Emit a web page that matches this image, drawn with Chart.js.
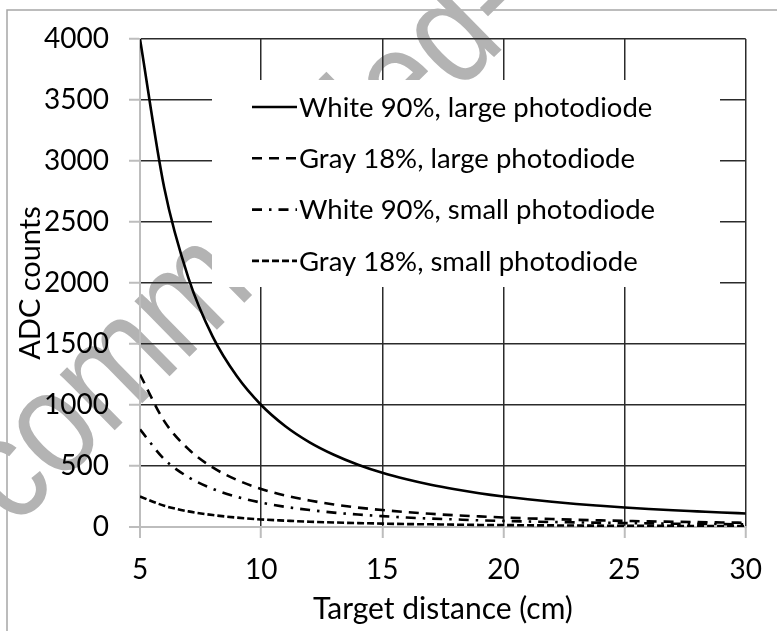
<!DOCTYPE html>
<html>
<head>
<meta charset="utf-8">
<script src="https://cdn.jsdelivr.net/npm/chart.js@4.4.0/dist/chart.umd.min.js"></script>
<style>
  html, body { margin: 0; padding: 0; background: #fff; }
  #wrap { position: relative; width: 777px; height: 631px; }
  canvas { display: block; }
</style>
</head>
<body>
<div id="wrap"><canvas id="c" width="777" height="631"></canvas></div>
<script>
// Target distance (cm)
const distances = [5, 6, 7, 8, 9, 10, 11, 12, 13, 14, 15, 16, 17, 18, 19, 20, 21, 22, 23, 24, 25, 26, 27, 28, 29, 30];
// ADC counts
const whiteLarge = [4000, 2780, 2040, 1560, 1235, 1000, 826, 694, 592, 510, 444, 391, 346, 309, 277, 250, 227, 207, 189, 174, 160, 148, 137, 128, 119, 111];
const grayLarge  = [1250, 868, 638, 488, 386, 312, 258, 217, 185, 159, 139, 122, 108, 96, 87, 78, 71, 65, 59, 54, 50, 46, 43, 40, 37, 35];
const whiteSmall = [800, 556, 408, 313, 247, 200, 165, 139, 118, 102, 89, 78, 69, 62, 55, 50, 45, 41, 38, 35, 32, 30, 27, 26, 24, 22];
const graySmall  = [250, 174, 128, 98, 77, 62, 52, 43, 37, 32, 28, 24, 22, 19, 17, 16, 14, 13, 12, 11, 10, 9, 9, 8, 7, 7];
const seriesLabels = ['White 90%, large photodiode', 'Gray 18%, large photodiode', 'White 90%, small photodiode', 'Gray 18%, small photodiode'];
const seriesValues = [whiteLarge, grayLarge, whiteSmall, graySmall];
const seriesDash = [[], [10, 7], [10, 7, 2.5, 7], [7, 3]];
const xTickValues = [5, 10, 15, 20, 25, 30];
const yTickValues = [0, 500, 1000, 1500, 2000, 2500, 3000, 3500, 4000];
const xTitle = 'Target distance (cm)';
const yTitle = 'ADC counts';
const watermark = 'Recommended-';

const FONT = 'Lato';
const GRID = '#2b2b2b';
const AXIS = '#bdbdbd';

const datasets = seriesLabels.map((lab, i) => ({
  label: lab,
  data: distances.map((d, j) => ({ x: d, y: seriesValues[i][j] })),
  borderColor: '#000',
  borderWidth: 2.6,
  borderDash: seriesDash[i],
  pointRadius: 0,
  fill: false,
  cubicInterpolationMode: 'monotone'
}));

const backgroundPlugin = {
  id: 'bg',
  beforeDraw(chart) {
    const ctx = chart.ctx;
    ctx.save();
    ctx.fillStyle = '#fff';
    ctx.fillRect(0, 0, chart.width, chart.height);
    // outer frame
    ctx.strokeStyle = '#a6a6a6';
    ctx.lineWidth = 1.5;
    ctx.strokeRect(7, 10, 900, 800);
    // watermark
    ctx.translate(-101, 642);
    ctx.rotate(-44.5 * Math.PI / 180);
    ctx.scale(0.85, 1);
    ctx.fillStyle = '#b3b3b3';
    ctx.font = '148px "Liberation Sans"';
    ctx.textBaseline = 'alphabetic';
    ctx.textAlign = 'left';
    ctx.fillText(watermark, 0, 0);
    ctx.restore();
  }
};

const legendPlugin = {
  id: 'customLegend',
  afterDraw(chart) {
    const ctx = chart.ctx;
    ctx.save();
    ctx.fillStyle = '#fff';
    ctx.fillRect(212, 80, 508, 207);
    chart.data.datasets.forEach((ds, i) => {
      const y = 107 + i * 51.3;
      ctx.beginPath();
      ctx.setLineDash(ds.borderDash || []);
      ctx.lineWidth = 2.6;
      ctx.strokeStyle = '#000';
      ctx.moveTo(252, y);
      ctx.lineTo(297, y);
      ctx.stroke();
      ctx.setLineDash([]);
      ctx.fillStyle = '#000';
      ctx.font = '27.5px ' + FONT;
      ctx.textBaseline = 'middle';
      ctx.textAlign = 'left';
      ctx.fillText(ds.label, 299, y + 1);
    });
    ctx.restore();
  }
};

new Chart(document.getElementById('c'), {
  type: 'line',
  data: { datasets },
  options: {
    responsive: false,
    animation: false,
    devicePixelRatio: 1,
    layout: { padding: { left: 0, top: 39, right: 24, bottom: 0 } },
    plugins: { legend: { display: false }, tooltip: { enabled: false } },
    scales: {
      x: {
        type: 'linear',
        min: 5, max: 30,
        afterBuildTicks(scale) { scale.ticks = xTickValues.map(v => ({ value: v })); },
        afterFit(scale) { scale.height = 104; },
        ticks: { font: { family: FONT, size: 28 }, color: '#000', padding: 15, maxRotation: 0, callback: v => String(v) },
        grid: {
          color: ctx => ctx.index === 0 ? AXIS : GRID,
          lineWidth: ctx => ctx.index === 0 ? 2 : 1.5,
          tickColor: AXIS, tickLength: 11, tickWidth: 2
        },
        border: { color: AXIS, width: 2 },
        title: { display: true, text: xTitle, font: { family: FONT, size: 30 }, color: '#000', padding: { top: 0, bottom: 4 } }
      },
      y: {
        min: 0, max: 4000,
        afterBuildTicks(scale) { scale.ticks = yTickValues.map(v => ({ value: v })); },
        afterFit(scale) { scale.width = 140; },
        ticks: { font: { family: FONT, size: 28 }, color: '#000', padding: 20, callback: v => String(v) },
        grid: {
          color: ctx => ctx.index === 0 ? AXIS : GRID,
          lineWidth: ctx => ctx.index === 0 ? 2 : 1.5,
          tickColor: AXIS, tickLength: 11, tickWidth: 2
        },
        border: { color: AXIS, width: 2 },
        title: { display: true, text: yTitle, font: { family: FONT, size: 29 }, color: '#000', padding: { top: 13, bottom: 0 } }
      }
    }
  },
  plugins: [backgroundPlugin, legendPlugin]
});
</script>
</body>
</html>
